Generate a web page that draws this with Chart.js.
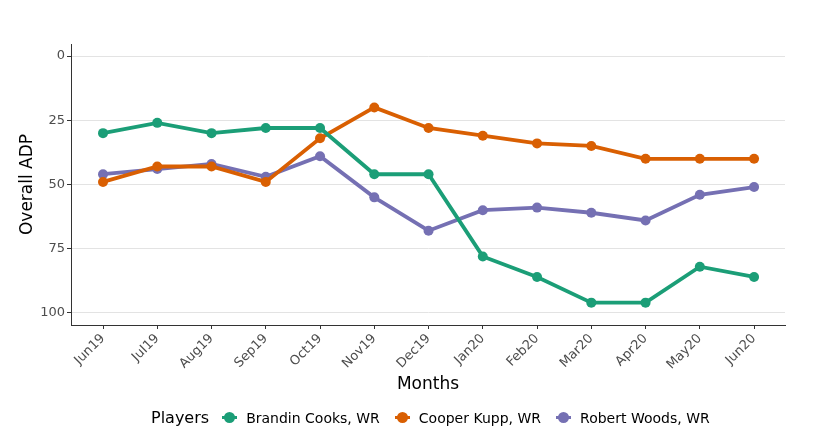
<!DOCTYPE html>
<html>
<head>
<meta charset="utf-8">
<script src="https://cdn.jsdelivr.net/npm/chart.js@4/dist/chart.umd.min.js"></script>
<style>
  html, body { margin: 0; padding: 0; background: #fff; }
  #wrap { position: relative; width: 819px; height: 447px; }
  #legend {
    position: absolute; left: 151px; top: 408px;
    display: flex; align-items: center;
    font-family: "DejaVu Sans", sans-serif; color: #000;
  }
  #legend .title { font-size: 16px; margin-right: 15px; }
  #legend .item { display: flex; align-items: center; font-size: 14px; margin-right: 17px; }
  #legend .key { position: relative; width: 11px; height: 11px; margin-right: 11px; }
  #legend .key .line { position: absolute; left: -2px; top: 4px; width: 15px; height: 3px; }
  #legend .key .dot { position: absolute; left: 0; top: 0; width: 11px; height: 11px; border-radius: 50%; }
</style>
</head>
<body>
<div id="wrap">
  <canvas id="chart" width="819" height="447"></canvas>
  <div id="legend"></div>
</div>
<script>
const months = ["Jun19", "Jul19", "Aug19", "Sep19", "Oct19", "Nov19", "Dec19",
  "Jan20", "Feb20", "Mar20", "Apr20", "May20", "Jun20"];

const cooks = [30, 26, 30, 28, 28, 46, 46, 78, 86, 96, 96, 82, 86];
const kupp = [49, 43, 43, 49, 32, 20, 28, 31, 34, 35, 40, 40, 40];
const woods = [46, 44, 42, 47, 39, 55, 68, 60, 59, 61, 64, 54, 51];

const yTicks = [0, 25, 50, 75, 100];

const players = [
  { name: "Brandin Cooks, WR", data: cooks, color: "#1b9e77" },
  { name: "Cooper Kupp, WR", data: kupp, color: "#d95f02" },
  { name: "Robert Woods, WR", data: woods, color: "#7570b3" }
];

function toPoints(values) {
  return values.map((v, i) => ({ x: i, y: v }));
}

const datasets = players.map(p => ({
  label: p.name,
  data: toPoints(p.data),
  borderColor: p.color,
  backgroundColor: p.color,
  borderWidth: 3.8,
  pointRadius: 5,
  pointBorderWidth: 0,
  tension: 0
}));

const tickFont = { family: "DejaVu Sans", size: 13 };
const titleFont = { family: "DejaVu Sans", size: 17 };

new Chart(document.getElementById("chart"), {
  type: "line",
  data: { datasets },
  options: {
    responsive: false,
    animation: false,
    layout: { padding: { top: 44, right: 34, bottom: 52, left: 0 } },
    plugins: { legend: { display: false }, tooltip: { enabled: false } },
    scales: {
      x: {
        type: "linear",
        min: -0.59,
        max: 12.57,
        afterBuildTicks: axis => {
          axis.ticks = months.map((m, i) => ({ value: i }));
        },
        afterFit: axis => { axis.height = 70; },
        ticks: {
          callback: v => months[v],
          minRotation: 45,
          maxRotation: 45,
          autoSkip: false,
          padding: 2,
          color: "#4d4d4d",
          font: tickFont
        },
        grid: {
          drawOnChartArea: false,
          tickLength: 4,
          tickColor: "#333"
        },
        border: { color: "#333", width: 1 },
        title: {
          display: true,
          text: "Months",
          color: "#000",
          font: titleFont,
          padding: { top: 0, bottom: 0 }
        }
      },
      y: {
        reverse: true,
        min: -4.7,
        max: 104.7,
        afterBuildTicks: axis => {
          axis.ticks = yTicks.map(v => ({ value: v }));
        },
        afterFit: axis => { axis.width = 71; },
        ticks: {
          color: "#4d4d4d",
          font: tickFont,
          padding: 2
        },
        grid: {
          color: "#e3e3e3",
          lineWidth: 1,
          tickLength: 4,
          tickColor: "#333"
        },
        border: { color: "#333", width: 1 },
        title: {
          display: true,
          text: "Overall ADP",
          color: "#000",
          font: titleFont,
          padding: { top: 17, bottom: 0 }
        }
      }
    }
  }
});

const legend = document.getElementById("legend");
legend.innerHTML = `<span class="title">Players</span>`;
players.forEach(p => {
  const item = document.createElement("span");
  item.className = "item";
  item.innerHTML = `<span class="key"><span class="line" style="background:${p.color}"></span>` +
    `<span class="dot" style="background:${p.color}"></span></span>${p.name}`;
  legend.appendChild(item);
});
</script>
</body>
</html>
